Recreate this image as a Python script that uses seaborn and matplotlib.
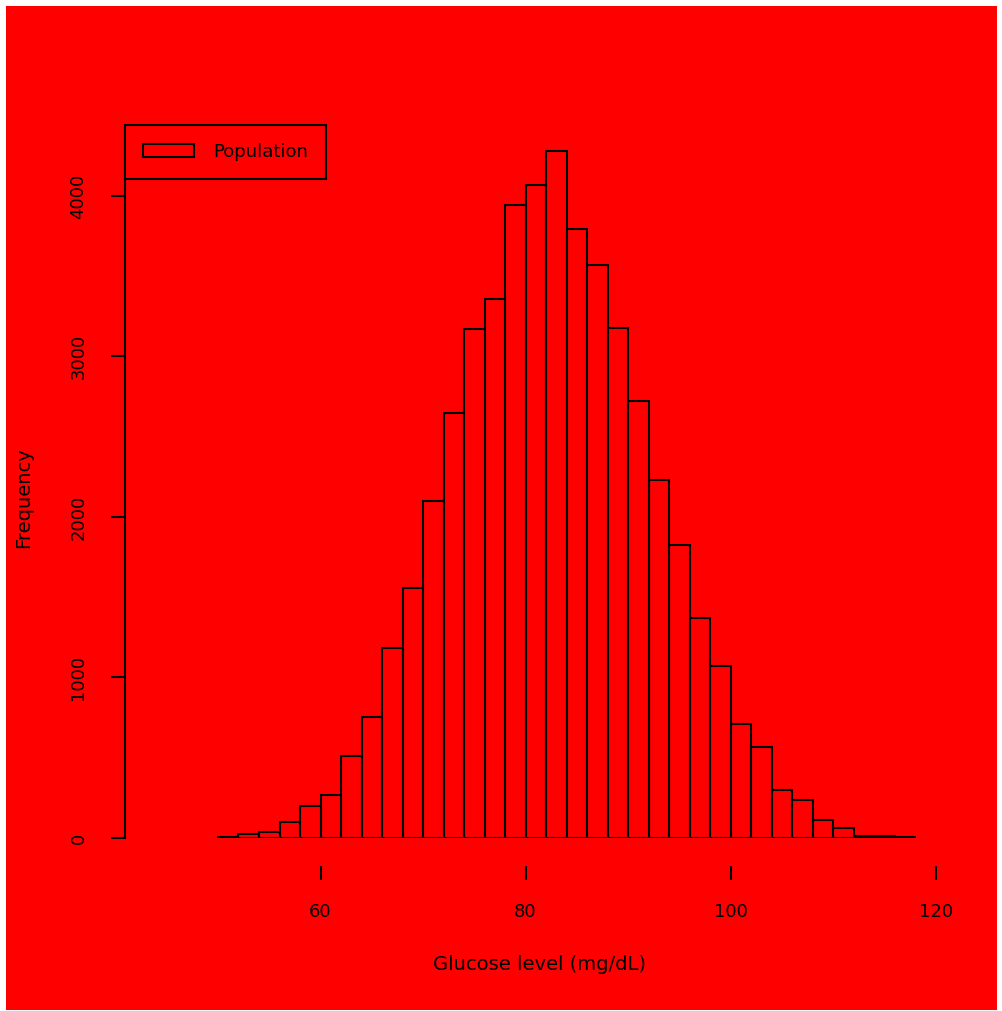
import numpy as np
import pandas as pd
import matplotlib
matplotlib.use("Agg")
import matplotlib.pyplot as plt
from matplotlib.patches import Rectangle
import seaborn as sns

# ---- data ----
bin_edges = list(range(50, 120, 2))          # 50, 52, ..., 118
bin_centers = [e + 1 for e in bin_edges[:-1]]
counts = [6, 25, 37, 100, 199, 268, 511, 754, 1184, 1558,
          2100, 2648, 3171, 3358, 3944, 4069, 4280, 3794, 3570, 3178,
          2723, 2230, 1826, 1371, 1072, 710, 567, 299, 237, 112,
          62, 12, 12, 6]
x_ticks = [60, 80, 100, 120]
y_ticks = [0, 1000, 2000, 3000, 4000]
series_label = "Population"
x_label = "Glucose level (mg/dL)"
y_label = "Frequency"

df = pd.DataFrame({"value": bin_centers, "count": counts})

sns.set_theme(style="ticks")
RED = "#FF0000"
plt.rcParams.update({
    "figure.facecolor": "white",
    "axes.facecolor": RED,
    "savefig.facecolor": "white",
    "axes.edgecolor": "black",
    "text.color": "black",
    "axes.labelcolor": "black",
    "xtick.color": "black",
    "ytick.color": "black",
})
plt.rcParams["font.family"] = ["DejaVu Sans"]

W, H = 1003, 1011
fig = plt.figure(figsize=(W / 100, H / 100), dpi=100)
# red background panel with a thin white margin
bg = Rectangle((6 / W, 1 / H), (W - 12) / W, (H - 7) / H,
               transform=fig.transFigure, facecolor=RED,
               edgecolor="none", zorder=-10)
fig.patches.append(bg)
ax = fig.add_axes([125 / W, (H - 838) / H, 825 / W, 713 / H])
ax.set_zorder(1)

sns.histplot(data=df, x="value", weights="count", bins=bin_edges,
             fill=False, color="black", linewidth=1.5,
             label=series_label, ax=ax)

ax.set_xlim(40.93, 121.4)
ax.set_ylim(0, 4442)
ax.set_xticks(x_ticks)
ax.set_yticks(y_ticks)
ax.tick_params(axis="both", labelsize=13, length=10, width=1.5, pad=17)
for lab in ax.get_yticklabels():
    lab.set_rotation(90)
    lab.set_va("center")

for s in ["top", "right"]:
    ax.spines[s].set_visible(False)
ax.spines["left"].set_linewidth(1.5)
ax.spines["bottom"].set_position(("outward", 20))
ax.spines["bottom"].set_visible(False)

ax.set_xlabel(x_label, fontsize=14)
ax.set_ylabel(y_label, fontsize=14)
ax.xaxis.set_label_coords(0.503, -0.164)
ax.yaxis.set_label_coords(-0.1115, 0.478)

leg = ax.legend(loc="upper left", bbox_to_anchor=(0, 1), borderaxespad=0,
                fontsize=13, borderpad=1.0, handlelength=2.8,
                handletextpad=1.07, fancybox=False, framealpha=1,
                facecolor=RED, edgecolor="black")
leg.get_frame().set_linewidth(1.5)

fig.savefig("out.png", dpi=100)
